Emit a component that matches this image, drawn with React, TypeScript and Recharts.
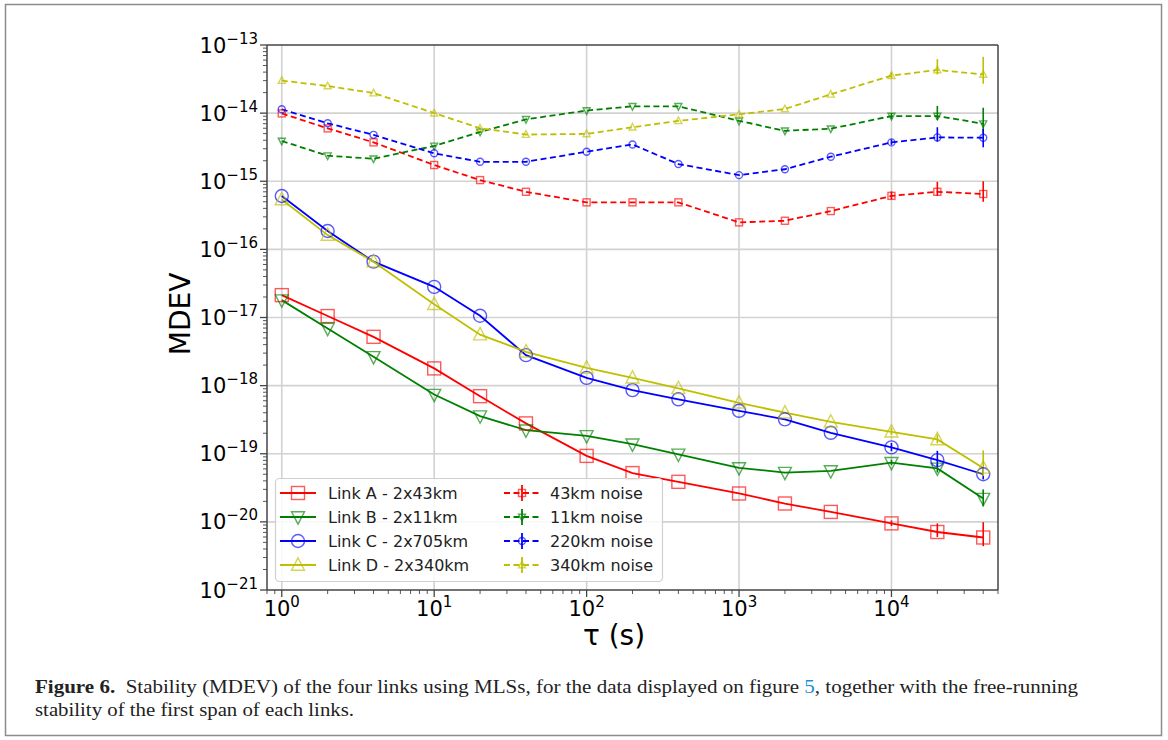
import React from "react";
import { ErrorBar, Line, LineChart, ReferenceLine, XAxis, YAxis } from "recharts";

// averaging time tau (s)
const TAU = [1, 2, 4, 10, 20, 40, 100, 200, 400, 1000, 2000, 4000, 10000, 20000, 40000];

// MDEV of the four links (solid)
const linkA = [2.13e-17, 1.05e-17, 5.2e-18, 1.79e-18, 7.0e-19, 2.79e-19, 9.3e-20, 5.2e-20, 3.87e-20, 2.61e-20, 1.86e-20, 1.4e-20, 9.5e-21, 7.1e-21, 5.9e-21];
const linkB = [1.8e-17, 6.9e-18, 2.65e-18, 7.4e-19, 3.57e-19, 2.22e-19, 1.83e-19, 1.38e-19, 9.8e-20, 6.2e-20, 5.3e-20, 5.6e-20, 7.4e-20, 6.1e-20, 2.2e-20];
const linkC = [6.07e-16, 1.86e-16, 6.6e-17, 2.82e-17, 1.06e-17, 2.8e-18, 1.3e-18, 8.6e-19, 6.3e-19, 4.27e-19, 3.2e-19, 2.03e-19, 1.24e-19, 8.05e-20, 5.0e-20];
const linkD = [5.4e-16, 1.62e-16, 6.6e-17, 1.56e-17, 5.6e-18, 3.14e-18, 1.82e-18, 1.3e-18, 9.1e-19, 5.6e-19, 4.0e-19, 2.94e-19, 2.1e-19, 1.62e-19, 6.2e-20];

// free-running noise of the first span (dashed)
const noiseA = [9.9e-15, 5.97e-15, 3.72e-15, 1.73e-15, 1.04e-15, 7.0e-16, 4.9e-16, 4.9e-16, 4.9e-16, 2.49e-16, 2.63e-16, 3.65e-16, 6.1e-16, 7.0e-16, 6.5e-16];
const noiseB = [3.9e-15, 2.37e-15, 2.14e-15, 3.3e-15, 5.3e-15, 8.1e-15, 1.09e-14, 1.26e-14, 1.26e-14, 7.7e-15, 5.5e-15, 5.9e-15, 9.05e-15, 9.05e-15, 7.0e-15];
const noiseC = [1.14e-14, 7.1e-15, 4.8e-15, 2.57e-15, 1.93e-15, 1.93e-15, 2.71e-15, 3.47e-15, 1.79e-15, 1.23e-15, 1.5e-15, 2.29e-15, 3.72e-15, 4.4e-15, 4.35e-15];
const noiseD = [3.0e-14, 2.5e-14, 1.97e-14, 1.0e-14, 6.0e-15, 4.85e-15, 4.95e-15, 6.2e-15, 7.7e-15, 9.6e-15, 1.15e-14, 1.89e-14, 3.55e-14, 4.3e-14, 3.7e-14];

// error bars [below, above], only visible at long tau
const errLinkA = [0, 0, 0, 0, 0, 0, 0, 0, 0, 0, 0, 0, [0.8e-21, 1e-21], [1.1e-21, 2.4e-21], [1.5e-21, 4e-21]];
const errLinkB = [0, 0, 0, 0, 0, 0, 0, 0, 0, 0, 0, 0, [0.6e-20, 0.8e-20], [0.8e-20, 1e-20], [0.5e-20, 0.8e-20]];
const errLinkC = [0, 0, 0, 0, 0, 0, 0, 0, 0, 0, 0, 0, [1.5e-20, 2e-20], [1.5e-20, 3e-20], [0.8e-20, 1e-20]];
const errLinkD = [0, 0, 0, 0, 0, 0, 0, 0, 0, 0, 0, 0, [0.2e-19, 0.3e-19], [0.2e-19, 0.3e-19], [1.5e-20, 5e-20]];
const errNoiseA = [0, 0, 0, 0, 0, 0, 0, 0, 0, 0, 0, 0, [0.7e-16, 1e-16], [0.9e-16, 2.8e-16], [1.5e-16, 3.5e-16]];
const errNoiseB = [0, 0, 0, 0, 0, 0, 0, 0, 0, 0, 0, 0, [0.8e-15, 1e-15], [1.1e-15, 3.7e-15], [2e-15, 5e-15]];
const errNoiseC = [0, 0, 0, 0, 0, 0, 0, 0, 0, 0, 0, 0, [0.3e-15, 0.4e-15], [0.6e-15, 1.8e-15], [1.2e-15, 1.5e-15]];
const errNoiseD = [0, 0, 0, 0, 0, 0, 0, 0, 0, 0, 0, 0, [0.3e-14, 0.4e-14], [0.6e-14, 1.9e-14], [1e-14, 3e-14]];

const X_MAJOR = [1, 10, 100, 1000, 10000];
const X_MINOR = [0.8, 0.9, 2, 3, 4, 5, 6, 7, 8, 9, 20, 30, 40, 50, 60, 70, 80, 90, 200, 300, 400, 500, 600, 700, 800, 900, 2000, 3000, 4000, 5000, 6000, 7000, 8000, 9000, 20000, 30000, 40000, 50000];
const Y_EXP = [-21, -20, -19, -18, -17, -16, -15, -14, -13];

const RED = "#ff0000";
const GREEN = "#008000";
const BLUE = "#0000ff";
const YELLOW = "#bfbf00";

const SERIES = [
  { key: "linkA", err: "errLinkA", name: "Link A - 2x43km", color: RED, marker: "square", dashed: false },
  { key: "linkB", err: "errLinkB", name: "Link B - 2x11km", color: GREEN, marker: "tridown", dashed: false },
  { key: "linkC", err: "errLinkC", name: "Link C - 2x705km", color: BLUE, marker: "circle", dashed: false },
  { key: "linkD", err: "errLinkD", name: "Link D - 2x340km", color: YELLOW, marker: "triup", dashed: false },
  { key: "noiseA", err: "errNoiseA", name: "43km noise", color: RED, marker: "square", dashed: true },
  { key: "noiseB", err: "errNoiseB", name: "11km noise", color: GREEN, marker: "tridown", dashed: true },
  { key: "noiseC", err: "errNoiseC", name: "220km noise", color: BLUE, marker: "circle", dashed: true },
  { key: "noiseD", err: "errNoiseD", name: "340km noise", color: YELLOW, marker: "triup", dashed: true },
];

const rows = TAU.map((tau, i) => ({
  tau,
  linkA: linkA[i], linkB: linkB[i], linkC: linkC[i], linkD: linkD[i],
  noiseA: noiseA[i], noiseB: noiseB[i], noiseC: noiseC[i], noiseD: noiseD[i],
  errLinkA: errLinkA[i], errLinkB: errLinkB[i], errLinkC: errLinkC[i], errLinkD: errLinkD[i],
  errNoiseA: errNoiseA[i], errNoiseB: errNoiseB[i], errNoiseC: errNoiseC[i], errNoiseD: errNoiseD[i],
}));

const FONT = "DejaVu Sans";
const SPINE = "#444";

function Marker({ shape, cx, cy, s, color }: { shape: string; cx: number; cy: number; s: number; color: string }) {
  const common = { fill: "none", stroke: color, strokeWidth: 1.4, strokeOpacity: 0.65 };
  if (shape === "square") return <rect x={cx - s} y={cy - s} width={2 * s} height={2 * s} {...common} />;
  if (shape === "circle") return <circle cx={cx} cy={cy} r={s} {...common} />;
  const d = shape === "triup" ? 1 : -1;
  const pts = `${cx},${cy - d * s * 1.1} ${cx - s},${cy + d * s * 0.8} ${cx + s},${cy + d * s * 0.8}`;
  return <polygon points={pts} {...common} />;
}

const isMajor = (v: number) => Math.abs(Math.log10(v) - Math.round(Math.log10(v))) < 1e-6;

function XTick({ x, y, payload }: any) {
  const v = payload.value;
  const major = isMajor(v);
  return (
    <g>
      <line x1={x} x2={x} y1={y} y2={y + (major ? 7 : 4)} stroke={SPINE} strokeWidth={major ? 1.3 : 0.9} />
      {major && (
        <text x={x} y={y + 26} textAnchor="middle" fontFamily={FONT} fontSize={21} fill="#000">
          10<tspan dy={-9} fontSize={15}>{Math.round(Math.log10(v))}</tspan>
        </text>
      )}
    </g>
  );
}

function YTick({ x, y, payload }: any) {
  const v = payload.value;
  const major = isMajor(v);
  const e = Math.round(Math.log10(v));
  return (
    <g>
      <line x1={x} x2={x - (major ? 7 : 4)} y1={y} y2={y} stroke={SPINE} strokeWidth={major ? 1.3 : 0.9} />
      {major && (
        <text x={x - 9} y={y + 7.5} textAnchor="end" fontFamily={FONT} fontSize={21} fill="#000">
          10<tspan dy={-9} fontSize={15}>{"\u2212" + Math.abs(e)}</tspan>
        </text>
      )}
    </g>
  );
}

const yTicks: number[] = [];
Y_EXP.forEach((e) => {
  yTicks.push(Math.pow(10, e));
  if (e < -13) for (let k = 2; k <= 9; k++) yTicks.push(Number((k * Math.pow(10, e)).toPrecision(3)));
});
const xTicks = [...X_MAJOR, ...X_MINOR].sort((a, b) => a - b);

function LegendBox() {
  const rowY = [493, 517, 541, 565];
  const cols = [
    { lx: 280, tx: 328 },
    { lx: 504, tx: 550 },
  ];
  return (
    <g>
      <rect x={275.5} y={478.5} width={387} height={103} rx={4} fill="#fff" fillOpacity={0.85} stroke="#d0d0d0" strokeWidth={1.2} />
      {SERIES.map((s, i) => {
        const c = cols[s.dashed ? 1 : 0];
        const y = rowY[i % 4];
        const mx = c.lx + 18;
        return (
          <g key={s.key}>
            <line x1={c.lx} x2={c.lx + 36} y1={y} y2={y} stroke={s.color} strokeWidth={1.8} strokeDasharray={s.dashed ? "6 3.5" : undefined} />
            {s.dashed && <line x1={mx} x2={mx} y1={y - 8} y2={y + 8} stroke={s.color} strokeWidth={1.8} />}
            <Marker shape={s.marker} cx={mx} cy={y} s={s.dashed ? 3.5 : 6.5} color={s.color} />
            <text x={c.tx} y={y + 6} fontFamily={FONT} fontSize={16} fill="#222">{s.name}</text>
          </g>
        );
      })}
    </g>
  );
}

export default function App() {
  return (
    <div style={{ position: "absolute", left: 0, top: 0, width: 1168, height: 740, background: "#fff" }}>
      <div style={{ position: "absolute", left: 0, top: 0 }}>
        <LineChart width={1168} height={740} data={rows} margin={{ top: 45, right: 170, bottom: 100, left: 207 }}>
          <XAxis
            dataKey="tau"
            type="number"
            scale="log"
            domain={[0.8, 50000]}
            allowDataOverflow
            ticks={xTicks}
            interval={0}
            height={50}
            tickSize={0}
            tickMargin={0}
            tick={<XTick />}
            tickLine={false}
            axisLine={{ stroke: SPINE, strokeWidth: 1.5 }}
          />
          <YAxis
            type="number"
            scale="log"
            domain={[1e-21, 1e-13]}
            allowDataOverflow
            ticks={yTicks}
            interval={0}
            width={60}
            tickSize={0}
            tickMargin={0}
            tick={<YTick />}
            tickLine={false}
            axisLine={{ stroke: SPINE, strokeWidth: 1.5 }}
          />
          {X_MAJOR.map((v) => (
            <ReferenceLine key={"gx" + v} x={v} stroke="#d2d2d2" strokeWidth={1.6} />
          ))}
          {Y_EXP.slice(1, -1).map((e) => (
            <ReferenceLine key={"gy" + e} y={Math.pow(10, e)} stroke="#d2d2d2" strokeWidth={1.6} />
          ))}
          <ReferenceLine y={1e-13} stroke={SPINE} strokeWidth={1.5} />
          <ReferenceLine x={50000} stroke={SPINE} strokeWidth={1.5} />
          {SERIES.map((s) => (
            <Line
              key={s.key}
              dataKey={s.key}
              stroke={s.color}
              strokeWidth={1.8}
              strokeDasharray={s.dashed ? "6 3.5" : undefined}
              isAnimationActive={false}
              activeDot={false}
              dot={(p: any) => (
                <Marker key={s.key + p.index} shape={s.marker} cx={p.cx} cy={p.cy} s={s.dashed ? 3.5 : 6.5} color={s.color} />
              )}
            >
              <ErrorBar dataKey={s.err} direction="y" width={0} stroke={s.color} strokeWidth={1.6} isAnimationActive={false} />
            </Line>
          ))}
        </LineChart>
      </div>
      <svg width={1168} height={740} style={{ position: "absolute", left: 0, top: 0, pointerEvents: "none" }}>
        <rect x={5.5} y={4.5} width={1156} height={731} fill="none" stroke="#8c8c8c" strokeWidth={1.5} />
        <LegendBox />
        <text x={0} y={0} transform="translate(190 314) rotate(-90)" textAnchor="middle" fontFamily={FONT} fontSize={28} fill="#000">
          MDEV
        </text>
        <text x={614} y={645} textAnchor="middle" fontFamily={FONT} fontSize={28} fill="#000">
          τ (s)
        </text>
        <text x={35} y={693} fontFamily="Liberation Serif" fontSize={18} fill="#222" textLength={1043} lengthAdjust="spacingAndGlyphs" style={{ whiteSpace: "pre" }}>
          <tspan fontWeight="bold">Figure 6.</tspan>
          {"  Stability (MDEV) of the four links using MLSs, for the data displayed on figure "}
          <tspan fill="#1a8fd6">5</tspan>
          {", together with the free-running"}
        </text>
        <text x={35} y={716} fontFamily="Liberation Serif" fontSize={18} fill="#222" textLength={319} lengthAdjust="spacingAndGlyphs">
          stability of the first span of each links.
        </text>
      </svg>
    </div>
  );
}
